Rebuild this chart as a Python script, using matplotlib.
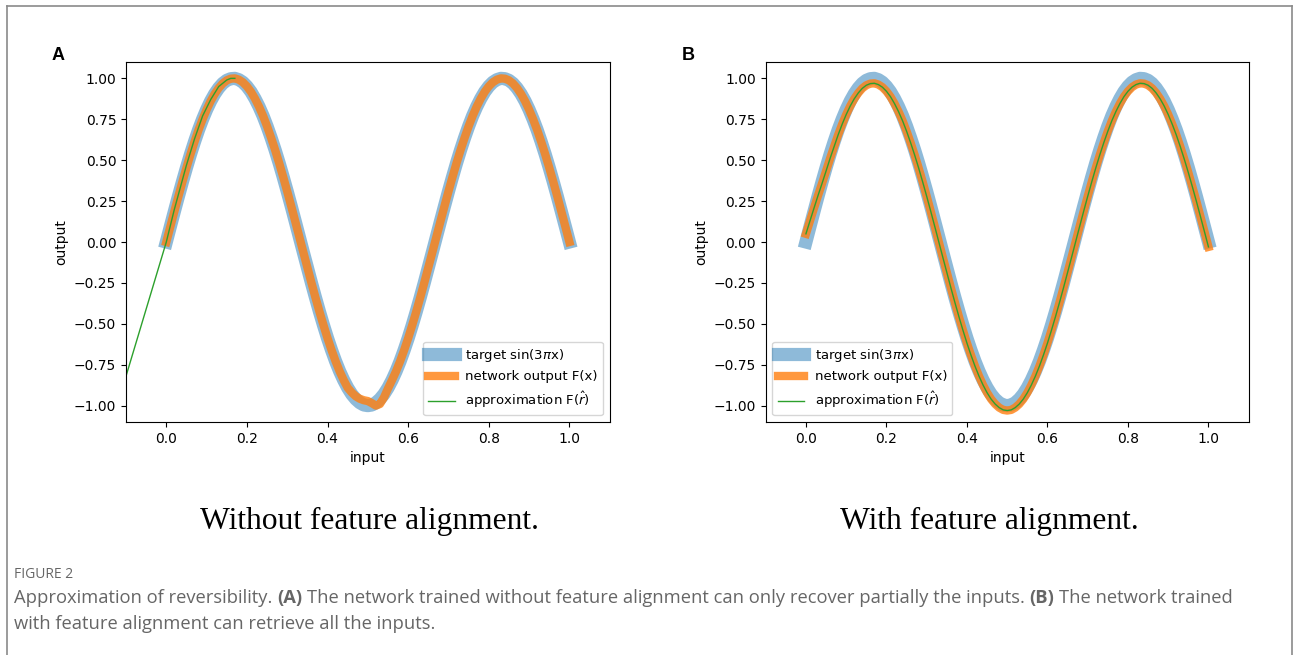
import numpy as np
import matplotlib
matplotlib.use('Agg')
import matplotlib.pyplot as plt
from matplotlib.lines import Line2D

# sample positions along the input axis (step 0.01)
x = np.round(np.arange(101) * 0.01, 2)

# target sin(3 pi x)
target = [0.000, 0.094, 0.187, 0.279, 0.368, 0.454, 0.536, 0.613, 0.685, 0.750, 0.809,
          0.861, 0.905, 0.941, 0.969, 0.988, 0.998, 1.000, 0.992, 0.976, 0.951,
          0.918, 0.876, 0.827, 0.771, 0.707, 0.637, 0.562, 0.482, 0.397, 0.309,
          0.218, 0.125, 0.031, -0.063, -0.156, -0.249, -0.339, -0.426, -0.509, -0.588,
          -0.661, -0.729, -0.790, -0.844, -0.891, -0.930, -0.960, -0.982, -0.996, -1.000,
          -0.996, -0.982, -0.960, -0.930, -0.891, -0.844, -0.790, -0.729, -0.661, -0.588,
          -0.509, -0.426, -0.339, -0.249, -0.156, -0.063, 0.031, 0.125, 0.218, 0.309,
          0.397, 0.482, 0.562, 0.637, 0.707, 0.771, 0.827, 0.876, 0.918, 0.951,
          0.976, 0.992, 1.000, 0.998, 0.988, 0.969, 0.941, 0.905, 0.861, 0.809,
          0.750, 0.685, 0.613, 0.536, 0.454, 0.368, 0.279, 0.187, 0.094, 0.000]

# panel A: network output (small kink around the minimum)
net_a = [0.000, 0.094, 0.187, 0.279, 0.368, 0.454, 0.536, 0.613, 0.685, 0.750, 0.809,
         0.861, 0.905, 0.941, 0.969, 0.988, 0.998, 1.000, 0.992, 0.976, 0.951,
         0.918, 0.876, 0.827, 0.771, 0.707, 0.637, 0.562, 0.482, 0.397, 0.309,
         0.218, 0.125, 0.031, -0.063, -0.156, -0.249, -0.339, -0.426, -0.509, -0.588,
         -0.661, -0.729, -0.790, -0.844, -0.891, -0.920, -0.943, -0.958, -0.967, -0.972,
         -0.985, -1.000, -0.990, -0.950, -0.895, -0.844, -0.790, -0.729, -0.661, -0.588,
         -0.509, -0.426, -0.339, -0.249, -0.156, -0.063, 0.031, 0.125, 0.218, 0.309,
         0.397, 0.482, 0.562, 0.637, 0.707, 0.771, 0.827, 0.876, 0.918, 0.951,
         0.976, 0.992, 1.000, 0.998, 0.988, 0.969, 0.941, 0.905, 0.861, 0.809,
         0.750, 0.685, 0.613, 0.536, 0.454, 0.368, 0.279, 0.187, 0.094, 0.000]

# panel A: approximation only recovers the first part of the curve
approx_a_x = [-0.10, 0.00, 0.01, 0.02, 0.03, 0.04, 0.05, 0.06, 0.07, 0.08,
              0.09, 0.10, 0.11, 0.12, 0.13, 0.14, 0.15, 0.16, 0.17]
approx_a_y = [-0.82, 0.00, 0.10, 0.20, 0.29, 0.38, 0.47, 0.55, 0.63, 0.70,
              0.77, 0.82, 0.87, 0.91, 0.95, 0.97, 0.99, 1.00, 1.00]

# panel B: network output, slightly shifted down
net_b = [0.050, 0.129, 0.207, 0.284, 0.358, 0.434, 0.511, 0.583, 0.655, 0.720, 0.779,
         0.831, 0.875, 0.911, 0.939, 0.958, 0.968, 0.970, 0.962, 0.946, 0.921,
         0.888, 0.846, 0.797, 0.741, 0.677, 0.607, 0.532, 0.452, 0.367, 0.279,
         0.188, 0.095, 0.001, -0.093, -0.186, -0.279, -0.369, -0.456, -0.539, -0.618,
         -0.691, -0.759, -0.820, -0.874, -0.921, -0.960, -0.990, -1.012, -1.026, -1.030,
         -1.026, -1.012, -0.990, -0.960, -0.921, -0.874, -0.820, -0.759, -0.691, -0.618,
         -0.539, -0.456, -0.369, -0.279, -0.186, -0.093, 0.001, 0.095, 0.188, 0.279,
         0.367, 0.452, 0.532, 0.607, 0.677, 0.741, 0.797, 0.846, 0.888, 0.921,
         0.946, 0.962, 0.970, 0.968, 0.958, 0.939, 0.911, 0.875, 0.831, 0.779,
         0.720, 0.655, 0.583, 0.506, 0.424, 0.338, 0.249, 0.157, 0.064, -0.030]
# green approximation sits right on top of the orange curve
approx_b = list(net_b)

xticks = [0.0, 0.2, 0.4, 0.6, 0.8, 1.0]
yticks = [-1.00, -0.75, -0.50, -0.25, 0.00, 0.25, 0.50, 0.75, 1.00]
labels = [r'target sin(3$\pi$x)', 'network output F(x)', r'approximation F($\hat{r}$)']
subtitles = ['Without feature alignment.', 'With feature alignment.']

fig = plt.figure(figsize=(12.93, 6.55), dpi=100)

# background axes for border and captions
bg = fig.add_axes([0, 0, 1, 1])
bg.set_xlim(0, 1)
bg.set_ylim(0, 1)
bg.axis('off')

W, H = 1293.0, 655.0
def fx(px): return px / W
def fy(py): return 1 - py / H

border = '#8a8a8a'
bg.add_line(Line2D([fx(7), fx(7)], [fy(6), 0], color=border, lw=1.2))
bg.add_line(Line2D([fx(7), fx(1292)], [fy(6), fy(6)], color=border, lw=1.2))
bg.add_line(Line2D([fx(1292), fx(1292)], [fy(6), 0], color=border, lw=1.2))


def panel(rect, ya, xg, yg, loc, letter, lx):
    ax = fig.add_axes(rect)
    ax.plot(x, target, color='C0', alpha=0.5, lw=9.5, label=labels[0])
    ax.plot(x, ya, color='C1', alpha=0.8, lw=6, label=labels[1])
    ax.plot(xg, yg, color='C2', lw=1.0, label=labels[2])
    ax.set_xlim(-0.1, 1.1)
    ax.set_ylim(-1.1, 1.1)
    ax.set_xticks(xticks)
    ax.set_yticks(yticks)
    ax.set_yticklabels(['%.2f' % v if v >= 0 else '\u2212%.2f' % -v for v in yticks])
    ax.tick_params(labelsize=10)
    ax.set_xlabel('input', fontsize=10)
    ax.set_ylabel('output', fontsize=10)
    ax.legend(loc=loc, fontsize=9.5)
    bg.text(fx(lx), fy(55), letter, fontsize=13, fontweight='bold',
            family='Liberation Sans', ha='left', va='center')
    return ax

ax1 = panel([fx(126), fy(422), fx(609.7) - fx(126), fy(62) - fy(422)],
            net_a, approx_a_x, approx_a_y, 'lower right', 'A', 52)
ax2 = panel([fx(765.7), fy(422), fx(1248.7) - fx(765.7), fy(62) - fy(422)],
            net_b, x, approx_b, 'lower left', 'B', 682)

bg.text(fx(370), fy(521), subtitles[0], family='Liberation Serif', fontsize=22.7,
        ha='center', va='center')
bg.text(fx(989), fy(521), subtitles[1], family='Liberation Serif', fontsize=22.7,
        ha='center', va='center')

cap_font = 'Open Sans'
gray = '#666666'
bg.text(fx(14), fy(575), 'FIGURE 2', family=cap_font, fontsize=10, color=gray,
        ha='left', va='center')


def line_parts(parts, px, py):
    t = bg.text(fx(px), fy(py), parts[0][0], family=cap_font, fontsize=13.2,
                fontweight=parts[0][1], color=gray, ha='left', va='bottom')
    for s, w in parts[1:]:
        t = bg.annotate(s, xy=(1, 0), xycoords=t, xytext=(3.4, 0),
                        textcoords='offset points', family=cap_font,
                        fontsize=13.2, fontweight=w, color=gray,
                        ha='left', va='bottom', annotation_clip=False)

line_parts([('Approximation of reversibility.', 'normal'), ('(A)', 'bold'),
            ('The network trained without feature alignment can only recover partially the inputs.', 'normal'),
            ('(B)', 'bold'), ('The network trained', 'normal')], 14, 607)
line_parts([('with feature alignment can retrieve all the inputs.', 'normal')], 14, 633)

fig.savefig('out.png', dpi=100)
